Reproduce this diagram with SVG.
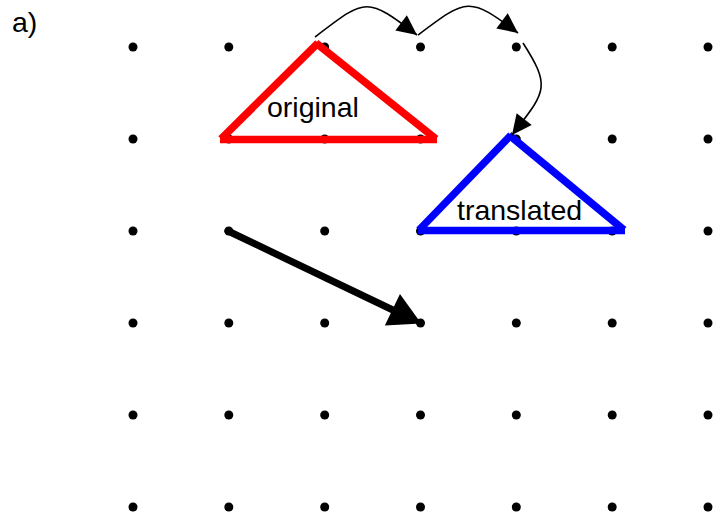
<svg xmlns="http://www.w3.org/2000/svg" width="717" height="518" viewBox="0 0 717 518">
  <style>
    .lbl { font-family: "Liberation Sans", Arial, sans-serif; font-size: 28.5px; fill: #000; }
    .edge-red { stroke: #ff0000; stroke-width: 7.5; fill: none; stroke-linecap: butt; }
    .edge-blue { stroke: #0000ff; stroke-width: 7.5; fill: none; stroke-linecap: butt; }
    .hop { stroke: #000; stroke-width: 1.6; fill: none; }
    .shift { stroke: #000; stroke-width: 7; fill: none; stroke-linecap: round; }
  </style>
  <defs>
    <marker id="headSmall" markerUnits="userSpaceOnUse" markerWidth="21" markerHeight="19" refX="20" refY="9.5" orient="auto" overflow="visible">
      <path d="M0,0 L20,9.5 L0,19 Z" fill="#000"/>
    </marker>
    <marker id="headBig" markerUnits="userSpaceOnUse" markerWidth="33" markerHeight="35" refX="4" refY="17.5" orient="auto" overflow="visible">
      <path d="M0,0 L32,17.5 L0,35 Z" fill="#000"/>
    </marker>
  </defs>

  <text class="lbl" x="12" y="32">a)</text>

  <!-- lattice of grid points -->
  <g id="grid">
    <g fill="#000">
      <circle cx="133" cy="47" r="4.5"/><circle cx="228.8" cy="47" r="4.5"/><circle cx="324.7" cy="47" r="4.5"/><circle cx="420.5" cy="47" r="4.5"/><circle cx="516.3" cy="47" r="4.5"/><circle cx="612.2" cy="47" r="4.5"/><circle cx="708" cy="47" r="4.5"/>
      <circle cx="133" cy="139" r="4.5"/><circle cx="228.8" cy="139" r="4.5"/><circle cx="324.7" cy="139" r="4.5"/><circle cx="420.5" cy="139" r="4.5"/><circle cx="516.3" cy="139" r="4.5"/><circle cx="612.2" cy="139" r="4.5"/><circle cx="708" cy="139" r="4.5"/>
      <circle cx="133" cy="231" r="4.5"/><circle cx="228.8" cy="231" r="4.5"/><circle cx="324.7" cy="231" r="4.5"/><circle cx="420.5" cy="231" r="4.5"/><circle cx="516.3" cy="231" r="4.5"/><circle cx="612.2" cy="231" r="4.5"/><circle cx="708" cy="231" r="4.5"/>
      <circle cx="133" cy="323" r="4.5"/><circle cx="228.8" cy="323" r="4.5"/><circle cx="324.7" cy="323" r="4.5"/><circle cx="420.5" cy="323" r="4.5"/><circle cx="516.3" cy="323" r="4.5"/><circle cx="612.2" cy="323" r="4.5"/><circle cx="708" cy="323" r="4.5"/>
      <circle cx="133" cy="415" r="4.5"/><circle cx="228.8" cy="415" r="4.5"/><circle cx="324.7" cy="415" r="4.5"/><circle cx="420.5" cy="415" r="4.5"/><circle cx="516.3" cy="415" r="4.5"/><circle cx="612.2" cy="415" r="4.5"/><circle cx="708" cy="415" r="4.5"/>
      <circle cx="133" cy="507" r="4.5"/><circle cx="228.8" cy="507" r="4.5"/><circle cx="324.7" cy="507" r="4.5"/><circle cx="420.5" cy="507" r="4.5"/><circle cx="516.3" cy="507" r="4.5"/><circle cx="612.2" cy="507" r="4.5"/><circle cx="708" cy="507" r="4.5"/>
    </g>
  </g>

  <!-- original triangle -->
  <g id="original">
    <line class="edge-red" x1="221" y1="139" x2="318" y2="43"/>
    <line class="edge-red" x1="316" y1="43" x2="436" y2="139"/>
    <line class="edge-red" x1="220" y1="139.5" x2="437" y2="139.5"/>
    <text class="lbl" x="267" y="117">original</text>
  </g>

  <!-- translated triangle -->
  <g id="translated">
    <line class="edge-blue" x1="419" y1="230" x2="511" y2="135"/>
    <line class="edge-blue" x1="509" y1="135" x2="624" y2="230"/>
    <line class="edge-blue" x1="418" y1="230.5" x2="625" y2="230.5"/>
    <text class="lbl" x="457" y="220">translated</text>
  </g>

  <!-- step arrows and translation vector -->
  <g id="connectors">
    <path class="hop" d="M315,37 C366,-2 366,-4 417,35" marker-end="url(#headSmall)"/>
    <path class="hop" d="M418,35 C467,-2 469,-4 518,33" marker-end="url(#headSmall)"/>
    <path class="hop" d="M523,43 C552,88 545,92 512,135" marker-end="url(#headSmall)"/>
    <path class="shift" d="M228,231 L396,311.5" marker-end="url(#headBig)"/>
  </g>
</svg>
